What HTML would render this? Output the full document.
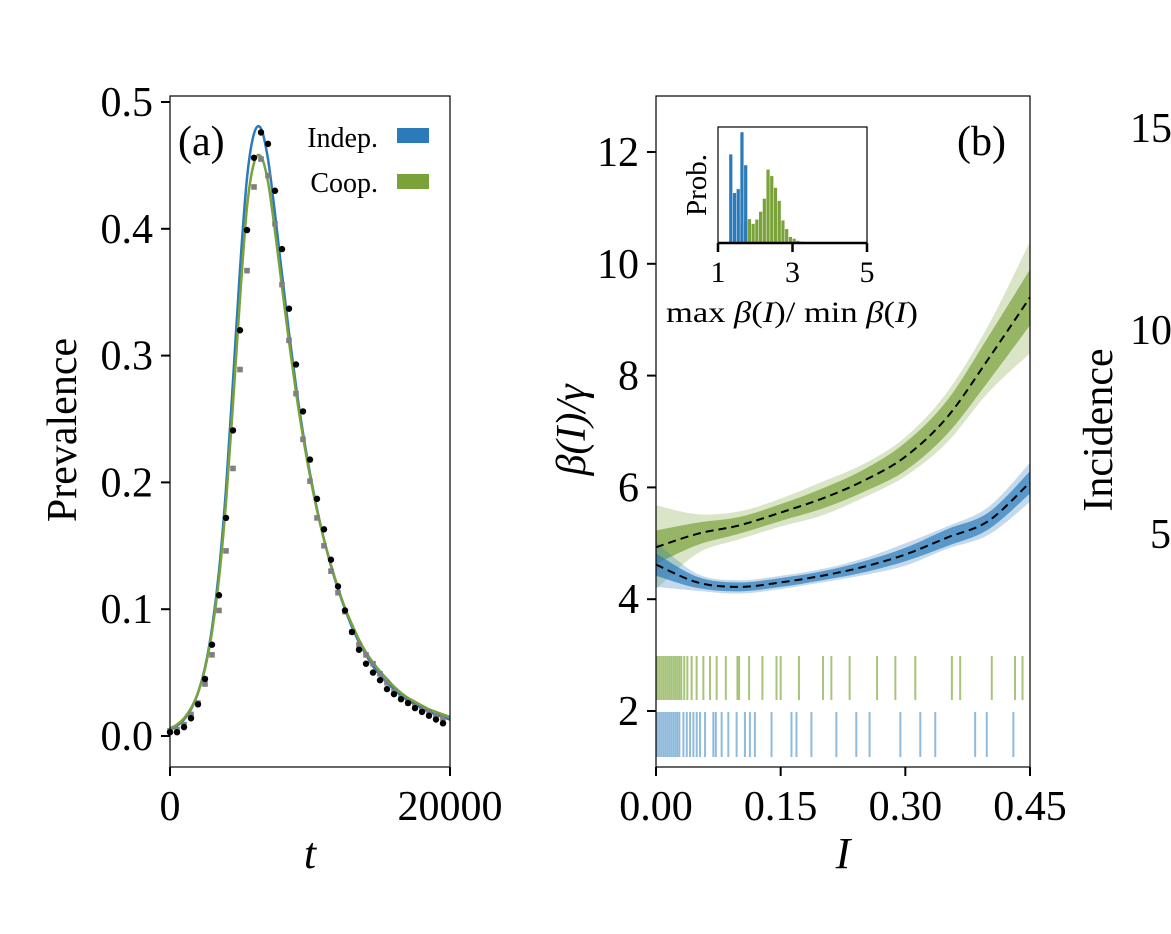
<!DOCTYPE html>
<html><head><meta charset="utf-8"><style>
html,body{margin:0;padding:0;background:#fff;}
svg{display:block;font-family:"Liberation Serif","DejaVu Serif",serif;}
</style></head><body>
<svg id="fig" width="1171" height="934" viewBox="0 0 1171 934" xmlns="http://www.w3.org/2000/svg">
<g id="pa"></g>
<g id="pb"></g>
<g id="pc">
 <text x="1130" y="142" font-size="42">15</text>
 <text x="1130" y="344" font-size="42">10</text>
 <text x="1150" y="548" font-size="42">5</text>
 <text transform="translate(1112,430) rotate(-90)" text-anchor="middle" font-size="42">Incidence</text>
</g>
</svg>
<script>
// ---- Panel (a) data ----
const tStep = 500;
const indepData = [0.003,0.003,0.007,0.014,0.025,0.045,0.072,0.111,0.172,0.241,0.320,0.399,0.456,0.476,0.467,0.430,0.384,0.337,0.293,0.256,0.218,0.187,0.163,0.139,0.118,0.099,0.082,0.068,0.057,0.050,0.044,0.037,0.033,0.029,0.026,0.022,0.019,0.016,0.013,0.010];
const coopData = [0.004,0.005,0.009,0.017,0.026,0.041,0.064,0.099,0.146,0.211,0.289,0.367,0.433,0.455,0.442,0.404,0.356,0.312,0.270,0.234,0.201,0.172,0.150,0.130,0.113,0.098,0.082,0.072,0.064,0.057,0.049,0.042,0.035,0.030,0.026,0.023,0.020,0.019,0.016,0.014];
const indepModel = [0.005,0.008,0.013,0.021,0.034,0.054,0.085,0.130,0.195,0.280,0.368,0.440,0.475,0.479,0.455,0.412,0.364,0.318,0.276,0.239,0.207,0.179,0.155,0.134,0.116,0.100,0.086,0.074,0.064,0.055,0.048,0.042,0.037,0.032,0.028,0.025,0.022,0.019,0.017,0.015,0.013];
const coopModel  = [0.006,0.009,0.014,0.022,0.034,0.053,0.082,0.124,0.184,0.262,0.345,0.417,0.452,0.457,0.437,0.398,0.354,0.311,0.271,0.236,0.205,0.178,0.155,0.135,0.117,0.101,0.088,0.076,0.066,0.058,0.051,0.045,0.039,0.034,0.030,0.027,0.024,0.021,0.019,0.017,0.015];
const aYTicks = [0.0,0.1,0.2,0.3,0.4,0.5];
const aYLabels = ["0.0","0.1","0.2","0.3","0.4","0.5"];
const aXTicks = [0,20000];
const aXLabels = ["0","20000"];

// ---- Panel (b) data ----
const bGrid = [0,0.05,0.1,0.15,0.2,0.25,0.3,0.35,0.4,0.45];
const coopMean = [4.93,5.17,5.32,5.55,5.8,6.12,6.55,7.25,8.3,9.4];
const coopCore = [0.3,0.2,0.15,0.15,0.18,0.2,0.25,0.3,0.4,0.5];
const coopOuter = [0.75,0.35,0.25,0.25,0.3,0.3,0.35,0.45,0.6,1.0];
const indepMean = [4.62,4.3,4.22,4.3,4.42,4.58,4.8,5.1,5.4,6.09];
const indepCore = [0.2,0.1,0.08,0.08,0.08,0.1,0.12,0.15,0.15,0.2];
const indepOuter = [0.4,0.15,0.12,0.12,0.12,0.15,0.2,0.2,0.25,0.35];
const coopRug = [.0016,.004,.0064,.0088,.0112,.0136,.016,.0184,.0209,.0233,.0257,.0281,.0305,.034,.0377,.0429,.0489,.057,.065,.073,.084,.098,.100,.112,.128,.145,.150,.172,.201,.211,.233,.266,.288,.312,.356,.366,.404,.432,.441];
const indepRug = [.0016,.004,.0064,.0088,.0112,.0136,.016,.0184,.0209,.0233,.0257,.0281,.033,.037,.041,.045,.049,.053,.059,.069,.072,.079,.087,.097,.107,.113,.119,.139,.163,.169,.187,.217,.241,.257,.294,.318,.336,.384,.398,.430];
const bYTicks = [2,4,6,8,10,12];
const bYLabels = ["2","4","6","8","10","12"];
const bXTicks = [0,0.15,0.30,0.45];
const bXLabels = ["0.00","0.15","0.30","0.45"];

// ---- Inset histogram ----
const histBinW = 0.1;
const indepBins = [1.3,1.4,1.5,1.6,1.7];
const indepProb = [2.04,1.15,1.24,2.55,1.79];
const coopBins = [1.6,1.7,1.8,1.9,2.0,2.1,2.2,2.3,2.4,2.5,2.6,2.7,2.8,2.9,3.0,3.1,3.2,3.3,3.4,3.5,3.6,3.7,3.8];
const coopProb = [0.45,0.5,0.55,0.44,0.54,0.72,1.02,1.69,1.54,1.27,0.97,0.52,0.32,0.14,0.10,0.05,0.03,0.02,0.02,0.02,0.02,0.01,0.01];
const insetXTicks = [1,3,5];

const NS="http://www.w3.org/2000/svg";
function mk(tag, attrs, parent){const e=document.createElementNS(NS,tag);for(const k in attrs)e.setAttribute(k,attrs[k]);parent.appendChild(e);return e;}
function smooth(pts){let d="M"+pts[0][0]+","+pts[0][1];for(let i=0;i<pts.length-1;i++){const p0=pts[Math.max(i-1,0)],p1=pts[i],p2=pts[i+1],p3=pts[Math.min(i+2,pts.length-1)];const c1x=p1[0]+(p2[0]-p0[0])/6,c1y=p1[1]+(p2[1]-p0[1])/6,c2x=p2[0]-(p3[0]-p1[0])/6,c2y=p2[1]-(p3[1]-p1[1])/6;d+=" C"+c1x+","+c1y+" "+c2x+","+c2y+" "+p2[0]+","+p2[1];}return d;}

// ===== Panel A =====
const pa=document.getElementById('pa');
const ax=t=>170+t/20000*280, ay=v=>736-v*1268;
let el;
el=mk('path',{d:smooth(indepModel.map((v,i)=>[ax(i*tStep),ay(v)])),fill:'none',stroke:'#2b7bba','stroke-width':2.5},pa);


el=mk('path',{d:smooth(coopModel.map((v,i)=>[ax(i*tStep),ay(v)])),fill:'none',stroke:'#7aa23a','stroke-width':2.5},pa);


coopData.forEach((v,i)=>{const r=mk('rect',{x:ax(i*tStep)-2.8,y:ay(v)-2.8,width:5.6,height:5.6,fill:'#808080'},pa);

});
indepData.forEach((v,i)=>{const c=mk('circle',{cx:ax(i*tStep),cy:ay(v),r:3.2,fill:'#000'},pa);

});
el=mk('rect',{x:170,y:96,width:280,height:671,fill:'none',stroke:'#000','stroke-width':1.2},pa);


aYTicks.forEach((v,i)=>{mk('line',{x1:161,x2:170,y1:ay(v),y2:ay(v),stroke:'#000','stroke-width':2},pa);
const t=mk('text',{x:153,y:ay(v)+14,'text-anchor':'end','font-size':42},pa);t.textContent=aYLabels[i];

});
aXTicks.forEach((v,i)=>{mk('line',{x1:ax(v),x2:ax(v),y1:767,y2:776,stroke:'#000','stroke-width':2},pa);
const t=mk('text',{x:ax(v),y:820,'text-anchor':'middle','font-size':42},pa);t.textContent=aXLabels[i];

});
el=mk('text',{x:310,y:868,'text-anchor':'middle','font-size':44,'font-style':'italic'},pa);el.textContent='t';


el=mk('text',{transform:'translate(76,430) rotate(-90)','text-anchor':'middle','font-size':42},pa);el.textContent='Prevalence';


el=mk('text',{x:178,y:155,'font-size':42},pa);el.textContent='(a)';


el=mk('text',{x:378,y:147,'text-anchor':'end','font-size':28},pa);el.textContent='Indep.';


mk('rect',{x:397,y:128,width:32,height:15,fill:'#2b7bba'},pa);
el=mk('text',{x:378,y:192,'text-anchor':'end','font-size':28},pa);el.textContent='Coop.';


mk('rect',{x:397,y:174,width:32,height:15,fill:'#7aa23a'},pa);

// ===== Panel B =====
const pb=document.getElementById('pb');
const bx=I=>656+I/0.45*374, by=v=>711-(v-2)*55.9;
function band(mean,w,fill,op,name){const up=bGrid.map((x,i)=>[bx(x),by(mean[i]+w[i])]);const lo=bGrid.map((x,i)=>[bx(x),by(mean[i]-w[i])]).reverse();
let d=smooth(up)+" L"+lo[0][0]+","+lo[0][1]+smooth(lo).replace(/^M[^C]*/,' ')+" Z";
const p=mk('path',{d:d,fill:fill,'fill-opacity':op,stroke:'none'},pb);

}
band(coopMean,coopOuter,'#7aa23a',0.28,'coop-posterior-band-outer');
band(coopMean,coopCore,'#7aa23a',0.7,'coop-posterior-band');
band(indepMean,indepOuter,'#2b7bba',0.28,'indep-posterior-band-outer');
band(indepMean,indepCore,'#2b7bba',0.7,'indep-posterior-band');
el=mk('path',{d:smooth(coopMean.map((v,i)=>[bx(bGrid[i]),by(v)])),fill:'none',stroke:'#000','stroke-width':2,'stroke-dasharray':'8,5'},pb);


el=mk('path',{d:smooth(indepMean.map((v,i)=>[bx(bGrid[i]),by(v)])),fill:'none',stroke:'#000','stroke-width':2,'stroke-dasharray':'8,5'},pb);


coopRug.forEach(v=>{const l=mk('line',{x1:bx(v),x2:bx(v),y1:656,y2:700,stroke:'#a8c47a','stroke-width':2},pb);

});
indepRug.forEach(v=>{const l=mk('line',{x1:bx(v),x2:bx(v),y1:712,y2:757,stroke:'#8fbbdc','stroke-width':2},pb);

});
el=mk('rect',{x:656,y:96,width:374,height:671,fill:'none',stroke:'#000','stroke-width':1.2},pb);


bYTicks.forEach((v,i)=>{mk('line',{x1:647,x2:656,y1:by(v),y2:by(v),stroke:'#000','stroke-width':2},pb);
const t=mk('text',{x:639,y:by(v)+14,'text-anchor':'end','font-size':42},pb);t.textContent=bYLabels[i];

});
bXTicks.forEach((v,i)=>{mk('line',{x1:bx(v),x2:bx(v),y1:767,y2:776,stroke:'#000','stroke-width':2},pb);
const t=mk('text',{x:bx(v),y:820,'text-anchor':'middle','font-size':42},pb);t.textContent=bXLabels[i];

});
el=mk('text',{x:843,y:868,'text-anchor':'middle','font-size':44,'font-style':'italic'},pb);el.textContent='I';


el=mk('text',{transform:'translate(585,430) rotate(-90)','text-anchor':'middle','font-size':42,'font-style':'italic'},pb);el.textContent='β(I)/γ';


el=mk('text',{x:957,y:155,'font-size':42},pb);el.textContent='(b)';



// Inset
const ix=v=>718+(v-1)/4*149, iy=p=>243-p/2.67*116;
coopBins.forEach((b,i)=>{const r=mk('rect',{x:ix(b),y:iy(coopProb[i]),width:ix(b+histBinW)-ix(b)-0.5,height:243-iy(coopProb[i]),fill:'#7aa23a'},pb);

});
indepBins.forEach((b,i)=>{const r=mk('rect',{x:ix(b),y:iy(indepProb[i]),width:ix(b+histBinW)-ix(b)-0.5,height:243-iy(indepProb[i]),fill:'#2b7bba'},pb);

});
el=mk('rect',{x:718,y:127,width:149,height:116,fill:'none',stroke:'#000','stroke-width':1.2},pb);


mk('line',{x1:718,x2:867,y1:243,y2:243,stroke:'#000','stroke-width':2.5},pb);
insetXTicks.forEach(v=>{mk('line',{x1:ix(v),x2:ix(v),y1:243,y2:252,stroke:'#000','stroke-width':2.5},pb);
const t=mk('text',{x:ix(v),y:282,'text-anchor':'middle','font-size':30},pb);t.textContent=String(v);

});
el=mk('text',{x:792,y:322,'text-anchor':'middle','font-size':30,'textLength':252,'lengthAdjust':'spacingAndGlyphs'},pb);
el.innerHTML='max <tspan font-style="italic">β</tspan>(<tspan font-style="italic">I</tspan>)/ min <tspan font-style="italic">β</tspan>(<tspan font-style="italic">I</tspan>)';


el=mk('text',{transform:'translate(706,185) rotate(-90)','text-anchor':'middle','font-size':29},pb);el.textContent='Prob.';


</script>
</body></html>
